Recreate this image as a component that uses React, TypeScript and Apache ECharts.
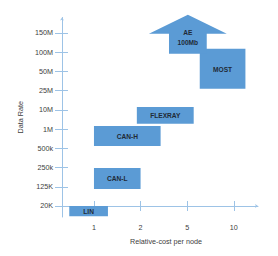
import React, { useEffect, useRef } from "react";
import * as echarts from "echarts";

// Axis tick labels (schematic, evenly spaced positions 0..n-1)
const rateLabels = ["20K", "125K", "250k", "500k", "1M", "10M", "25M", "50M", "100M", "150M"];
const costLabels = ["1", "2", "5", "10"];

// Technology boxes: ranges in axis units (cost position, rate position)
const techNames = ["LIN", "CAN-L", "CAN-H", "FLEXRAY", "MOST"];
const costFrom = [0.47, 1.0, 1.0, 1.92, 3.27];
const costTo = [1.3, 2.0, 2.43, 3.14, 4.25];
const rateFrom = [-0.53, 0.88, 3.12, 4.27, 6.09];
const rateTo = [0.0, 1.98, 4.16, 5.15, 8.17];

// AE 100Mb up-arrow: [head left, shaft left, shaft right, head right] / [shaft bottom, head base, tip]
const aeLabel = "AE\n100Mb";
const aeCost = [2.18, 2.61, 3.42, 3.85];
const aeRate = [7.91, 8.95, 9.94];

const X_MIN = 0.314;
const X_MAX = 4.52;
const Y_MIN = -0.572;
const Y_MAX = 9.8;

const FONT = "Liberation Sans";
const BOX = "#5B9BD5";
const AXIS = "#9DC3E6";
const TEXT = "#404040";

export default function App() {
  const ref = useRef<HTMLDivElement>(null);
  useEffect(() => {
    if (!ref.current) return;
    const chart = echarts.init(ref.current, null, { renderer: "svg" });
    const costTicks = costLabels.map((_, i) => i + 1);
    const rateTicks = rateLabels.map((_, i) => i);
    const boxData = techNames.map((n, i) => [costFrom[i], costTo[i], rateFrom[i], rateTo[i]]);

    const labelStyle = (text: string, x: number, y: number) => ({
      type: "text",
      x,
      y,
      style: {
        text,
        fill: "#1F2A36",
        font: `bold 6.6px "${FONT}"`,
        align: "center",
        verticalAlign: "middle",
        lineHeight: 10,
      },
    });

    chart.setOption({
      animation: false,
      grid: { left: 62, right: 20, top: 17.5, bottom: 39 },
      xAxis: [
        {
          type: "value",
          min: X_MIN,
          max: X_MAX,
          position: "bottom",
          name: "Relative-cost per node",
          nameLocation: "middle",
          nameGap: 21,
          nameTextStyle: { fontFamily: FONT, fontSize: 7.2, color: TEXT, padding: [0, 0, 0, 12] },
          axisLine: { show: true, lineStyle: { color: AXIS, width: 1 }, symbol: ["none", "arrow"], symbolSize: [3, 3] },
          axisTick: { show: true, length: 5, customValues: costTicks, lineStyle: { color: AXIS } },
          axisLabel: {
            customValues: costTicks,
            formatter: (v: number) => costLabels[Math.round(v) - 1] ?? "",
            fontFamily: FONT,
            fontSize: 7.2,
            color: TEXT,
            margin: 7,
          },
          splitLine: { show: false },
        },
        {
          type: "value",
          min: X_MIN,
          max: X_MAX,
          position: "bottom",
          axisLine: { show: false },
          axisTick: { show: true, inside: true, length: 5, customValues: costTicks, lineStyle: { color: AXIS } },
          axisLabel: { show: false },
          splitLine: { show: false },
        },
      ],
      yAxis: [
        {
          type: "value",
          min: Y_MIN,
          max: Y_MAX,
          position: "left",
          name: "Data Rate",
          nameLocation: "middle",
          nameGap: 37,
          nameTextStyle: { fontFamily: FONT, fontSize: 7.2, color: TEXT },
          axisLine: { show: true, lineStyle: { color: AXIS, width: 1 }, symbol: ["none", "arrow"], symbolSize: [3, 3] },
          axisTick: { show: true, length: 7, customValues: rateTicks, lineStyle: { color: AXIS } },
          axisLabel: {
            customValues: rateTicks,
            formatter: (v: number) => rateLabels[Math.round(v)] ?? "",
            fontFamily: FONT,
            fontSize: 7.2,
            color: TEXT,
            margin: 9,
          },
          splitLine: { show: false },
        },
        {
          type: "value",
          min: Y_MIN,
          max: Y_MAX,
          position: "left",
          axisLine: { show: false },
          axisTick: { show: true, inside: true, length: 6, customValues: rateTicks, lineStyle: { color: AXIS } },
          axisLabel: { show: false },
          splitLine: { show: false },
        },
      ],
      series: [
        {
          type: "custom",
          xAxisIndex: 0,
          yAxisIndex: 0,
          clip: false,
          data: boxData,
          renderItem: (params: any, api: any) => {
            const p0 = api.coord([api.value(0), api.value(3)]);
            const p1 = api.coord([api.value(1), api.value(2)]);
            return {
              type: "group",
              children: [
                {
                  type: "rect",
                  shape: { x: p0[0], y: p0[1], width: p1[0] - p0[0], height: p1[1] - p0[1] },
                  style: { fill: BOX },
                },
                labelStyle(techNames[params.dataIndex], (p0[0] + p1[0]) / 2, (p0[1] + p1[1]) / 2 + 0.5),
              ],
            };
          },
        },
        {
          type: "custom",
          xAxisIndex: 0,
          yAxisIndex: 0,
          clip: false,
          data: [[aeCost[0], aeCost[1], aeCost[2], aeCost[3], aeRate[0], aeRate[1], aeRate[2]]],
          renderItem: (params: any, api: any) => {
            const hl = api.value(0), sl = api.value(1), sr = api.value(2), hr = api.value(3);
            const sb = api.value(4), hb = api.value(5), tip = api.value(6);
            const mid = (hl + hr) / 2;
            const pts = [
              [sl, sb], [sl, hb], [hl, hb], [mid, tip], [hr, hb], [sr, hb], [sr, sb],
            ].map((p) => api.coord(p));
            const c1 = api.coord([mid, (hb + tip) / 2]);
            const c2 = api.coord([mid, sb]);
            return {
              type: "group",
              children: [
                { type: "polygon", shape: { points: pts }, style: { fill: BOX } },
                labelStyle(aeLabel, c1[0], (c1[1] + c2[1]) / 2 - 2),
              ],
            };
          },
        },
      ],
    });
    return () => chart.dispose();
  }, []);
  return (
    <div
      ref={ref}
      style={{ position: "fixed", left: 0, top: 0, width: 278, height: 256, background: "#ffffff" }}
    />
  );
}
